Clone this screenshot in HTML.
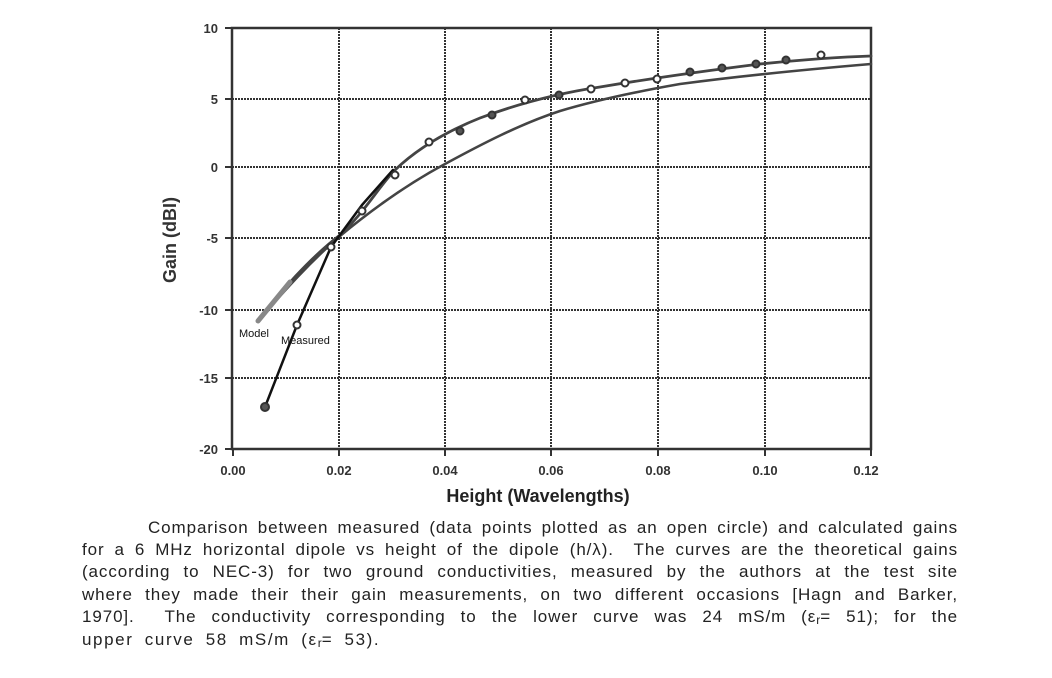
<!DOCTYPE html>
<html><head><meta charset="utf-8"><style>
body{margin:0;background:#fff;width:1052px;height:678px;overflow:hidden;position:relative;font-family:"Liberation Sans",Arial,sans-serif;}
.l{position:absolute;left:82px;width:876px;font-size:17px;letter-spacing:0.9px;word-spacing:3px;line-height:20px;color:#222;text-align:justify;text-align-last:justify;white-space:nowrap;}
.l.n{text-align-last:left;letter-spacing:1.6px;word-spacing:5px;}
.s{font-size:12px;position:relative;top:2px;letter-spacing:0;}
</style></head><body>
<svg width="1052" height="678" style="position:absolute;left:0;top:0">
<g stroke="#333" stroke-width="2" stroke-dasharray="2,1" fill="none">
<line x1="339" y1="28" x2="339" y2="450"/><line x1="445" y1="28" x2="445" y2="450"/>
<line x1="551" y1="28" x2="551" y2="450"/><line x1="658" y1="28" x2="658" y2="450"/>
<line x1="765" y1="28" x2="765" y2="450"/>
<line x1="232" y1="99" x2="871" y2="99"/><line x1="232" y1="167" x2="871" y2="167"/>
<line x1="232" y1="238" x2="871" y2="238"/><line x1="232" y1="310" x2="871" y2="310"/>
<line x1="232" y1="378" x2="871" y2="378"/>
</g>
<rect x="232" y="28" width="639" height="421" fill="none" stroke="#333" stroke-width="2.5"/>
<g stroke="#333" stroke-width="2">
<line x1="225" y1="28" x2="232" y2="28"/><line x1="225" y1="99" x2="232" y2="99"/><line x1="225" y1="167" x2="232" y2="167"/><line x1="225" y1="238" x2="232" y2="238"/><line x1="225" y1="310" x2="232" y2="310"/><line x1="225" y1="378" x2="232" y2="378"/><line x1="225" y1="449" x2="232" y2="449"/>
<line x1="233" y1="449" x2="233" y2="456"/><line x1="339" y1="449" x2="339" y2="456"/><line x1="445" y1="449" x2="445" y2="456"/><line x1="551" y1="449" x2="551" y2="456"/><line x1="658" y1="449" x2="658" y2="456"/><line x1="765" y1="449" x2="765" y2="456"/><line x1="871" y1="449" x2="871" y2="456"/>
</g>
<g font-family="Liberation Sans,Arial,sans-serif" font-size="13" font-weight="bold" fill="#333" text-anchor="end">
<text x="218" y="33">10</text><text x="218" y="104">5</text><text x="218" y="172">0</text><text x="218" y="243">-5</text><text x="218" y="315">-10</text><text x="218" y="383">-15</text><text x="218" y="454">-20</text>
</g>
<g font-family="Liberation Sans,Arial,sans-serif" font-size="13" font-weight="bold" fill="#333" text-anchor="middle">
<text x="233" y="475">0.00</text><text x="339" y="475">0.02</text><text x="445" y="475">0.04</text><text x="551" y="475">0.06</text><text x="658" y="475">0.08</text><text x="765" y="475">0.10</text><text x="866" y="475">0.12</text>
</g>
<text x="538" y="502" text-anchor="middle" font-family="Liberation Sans,Arial,sans-serif" font-size="18" font-weight="bold" fill="#222">Height (Wavelengths)</text>
<text transform="translate(176,240) rotate(-90)" text-anchor="middle" font-family="Liberation Sans,Arial,sans-serif" font-size="18" font-weight="bold" fill="#333">Gain  (dBI)</text>
<g fill="none" stroke-linecap="round" stroke-linejoin="round">
<path d="M258,321 C280,292 310,258 340,235 C365,212 380,185 395,170 C420,146 450,130 480,118 C520,103 560,93 600,87 C660,77 720,69 760,64 C800,60 840,57 871,56" stroke="#444" stroke-width="2.8"/>
<path d="M258,321 C285,290 310,262 340,236 C380,203 415,180 445,164 C480,145 520,124 560,111 C600,99 640,91 680,84 C740,76 800,70 871,64" stroke="#444" stroke-width="2.6"/>
<path d="M258,321 L290,282" stroke="#888" stroke-width="5"/>
<path d="M265,407 L297,325 L331,247 L362,205 L393,170" stroke="#111" stroke-width="2.5"/>
</g>
<g fill="#fff" stroke="#333" stroke-width="2">
<circle cx="265" cy="407" r="4" fill="#555"/><circle cx="297" cy="325" r="3.5"/><circle cx="331" cy="247" r="3.5"/><circle cx="362" cy="211" r="3.5"/><circle cx="395" cy="175" r="3.5"/><circle cx="429" cy="142" r="3.5"/><circle cx="460" cy="131" r="3.5" fill="#555"/><circle cx="492" cy="115" r="3.5" fill="#555"/><circle cx="525" cy="100" r="3.5"/><circle cx="559" cy="95" r="3.5" fill="#555"/><circle cx="591" cy="89" r="3.5"/><circle cx="625" cy="83" r="3.5"/><circle cx="657" cy="79" r="3.5"/><circle cx="690" cy="72" r="3.5" fill="#555"/><circle cx="722" cy="68" r="3.5" fill="#555"/><circle cx="756" cy="64" r="3.5" fill="#555"/><circle cx="786" cy="60" r="3.5" fill="#555"/><circle cx="821" cy="55" r="3.5"/>
</g>
<text x="239" y="337" font-family="Liberation Sans,Arial,sans-serif" font-size="11" fill="#111">Model</text>
<text x="281" y="344" font-family="Liberation Sans,Arial,sans-serif" font-size="11" fill="#111">Measured</text>
</svg>
<div class="l" style="top:518px;left:148px;width:810px">Comparison between measured (data points plotted as an open circle) and calculated gains</div>
<div class="l" style="top:540px">for a 6 MHz horizontal dipole vs height of the dipole (h/λ).&nbsp; The curves are the theoretical gains</div>
<div class="l" style="top:562px">(according to NEC-3) for two ground conductivities, measured by the authors at the test site</div>
<div class="l" style="top:585px">where they made their their gain measurements, on two different occasions [Hagn and Barker,</div>
<div class="l" style="top:607px">1970].&nbsp; The conductivity corresponding to the lower curve was 24 mS/m (ε<span class="s">r</span>= 51); for the</div>
<div class="l n" style="top:630px">upper curve 58 mS/m (ε<span class="s">r</span>= 53).</div>
</body></html>
